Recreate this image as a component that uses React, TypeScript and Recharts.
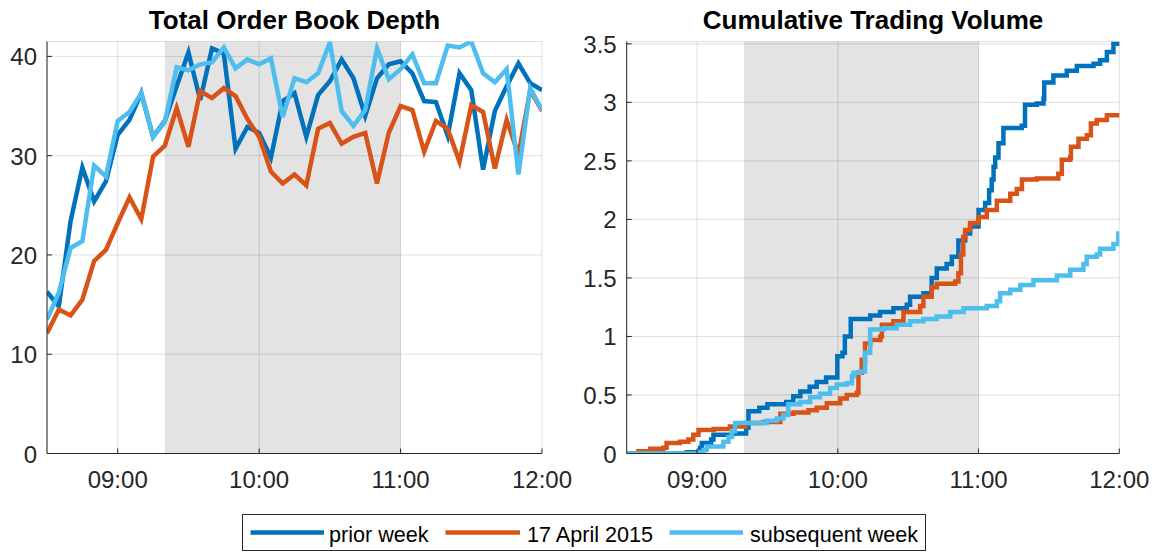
import React from 'react';
import { LineChart, Line, XAxis, YAxis, CartesianGrid, ReferenceArea } from 'recharts';

// ---------- data ----------
const seriesNames = ['prior week', '17 April 2015', 'subsequent week'];
const seriesColors = ['#0072BD', '#D95319', '#4DBEEE'];

// time in minutes since midnight
const timeTicks = [540, 600, 660, 720];
const depthTicks = [0, 10, 20, 30, 40];
const volumeTicks = [0, 0.5, 1, 1.5, 2, 2.5, 3, 3.5];
const eventStart = 560; // 09:20
const eventEnd = 660; // 11:00

const depthTimes = [510, 515, 520, 525, 530, 535, 540, 545, 550, 555, 560, 565, 570, 575, 580, 585, 590, 595, 600, 605, 610, 615, 620, 625, 630, 635, 640, 645, 650, 655, 660, 665, 670, 675, 680, 685, 690, 695, 700, 705, 710, 715, 720];
const depthPrior = [16.3, 14.8, 23.4, 28.8, 25.4, 27.4, 32.1, 33.6, 36.3, 31.9, 33.5, 37.0, 40.4, 35.6, 40.8, 40.3, 30.7, 32.9, 32.3, 29.8, 35.5, 36.3, 31.9, 36.1, 37.5, 39.7, 37.8, 34.0, 37.8, 39.2, 39.5, 38.3, 35.5, 35.4, 32.0, 38.3, 36.6, 28.6, 34.5, 37.0, 39.3, 37.3, 36.6];
const depthApril = [12.1, 14.5, 13.9, 15.5, 19.4, 20.5, 23.2, 25.8, 23.6, 29.9, 31.0, 34.8, 30.9, 36.5, 35.8, 36.8, 36.0, 33.7, 31.9, 28.4, 27.2, 28.1, 27.0, 32.7, 33.3, 31.2, 31.9, 32.3, 27.2, 32.3, 35.0, 34.6, 30.4, 33.5, 32.7, 29.4, 35.1, 34.4, 28.7, 33.6, 30.1, 36.6, 34.5];
const depthSubsequent = [13.5, 16.2, 20.7, 21.4, 29.0, 27.9, 33.5, 34.4, 36.3, 31.9, 33.4, 38.9, 38.6, 39.2, 39.4, 40.9, 38.8, 39.7, 39.2, 39.8, 33.9, 37.8, 37.4, 38.3, 41.4, 34.5, 33.0, 34.6, 40.8, 37.7, 38.7, 40.2, 37.3, 37.3, 41.1, 40.9, 41.5, 38.3, 37.4, 38.7, 28.1, 36.8, 34.6];

const volPriorTimes = [510, 535.6, 541.3, 542, 546, 547, 555, 560.9, 561.9, 566.5, 570, 578, 581, 584, 588, 591, 595, 599.8, 602, 603, 605.5, 613.8, 618, 623.7, 629.4, 630.8, 636.5, 640, 642.2, 646.4, 648.6, 651.4, 654.3, 656.4, 660, 662.8, 664.5, 665.6, 666.4, 667.1, 668.5, 670.6, 678.4, 679.8, 684.8, 687.7, 688, 691.9, 697.6, 701.9, 709, 711.8, 714.7, 717.5, 720];
const volPriorValues = [0, 0.01, 0.05, 0.09, 0.12, 0.16, 0.17, 0.22, 0.36, 0.39, 0.42, 0.44, 0.49, 0.53, 0.57, 0.61, 0.65, 0.83, 0.86, 1.0, 1.15, 1.18, 1.21, 1.24, 1.27, 1.34, 1.37, 1.5, 1.58, 1.62, 1.68, 1.82, 1.88, 1.94, 2.08, 2.14, 2.25, 2.34, 2.45, 2.53, 2.65, 2.78, 2.8, 2.98, 2.99, 3.03, 3.17, 3.23, 3.27, 3.31, 3.33, 3.36, 3.43, 3.5, 3.52];

const volAprilTimes = [510, 515, 520, 525.6, 527, 532.7, 536.3, 538.4, 540.6, 547, 554, 560.5, 568.3, 575.5, 581.1, 587.5, 591, 595.3, 601, 603.8, 608.1, 608.8, 610.2, 611.6, 613.8, 618.1, 618.8, 623.7, 628, 635.1, 636.5, 640, 642.2, 650, 651.4, 652.5, 653.5, 654.3, 656.4, 660, 663.5, 667.8, 673.5, 676.3, 678.5, 684.8, 694, 695.5, 699.1, 699.4, 702.6, 706.2, 707.9, 710.4, 714.7, 720];
const volAprilValues = [0, 0.02, 0.04, 0.05, 0.09, 0.1, 0.12, 0.16, 0.2, 0.21, 0.23, 0.26, 0.27, 0.34, 0.35, 0.37, 0.39, 0.43, 0.47, 0.5, 0.52, 0.69, 0.8, 0.94, 0.97, 1.0, 1.1, 1.13, 1.21, 1.26, 1.34, 1.42, 1.45, 1.47, 1.54, 1.7, 1.85, 1.91, 1.97, 2.02, 2.08, 2.16, 2.22, 2.26, 2.34, 2.35, 2.39, 2.51, 2.53, 2.62, 2.69, 2.72, 2.82, 2.85, 2.89, 2.91];

const volSubsequentTimes = [510, 541.3, 542.7, 544.1, 551.2, 553.4, 554.8, 556.2, 569.7, 574, 576.8, 578.9, 583.9, 588.2, 592.4, 596.7, 599.6, 603.8, 606, 606.7, 609.5, 611.6, 613.8, 619.4, 625.1, 630.8, 636.5, 642.2, 647.9, 653.6, 663.5, 667.8, 669.2, 673.5, 677.8, 683.4, 693.4, 699.1, 704.7, 706.1, 710.4, 711.8, 717.5, 719.6, 720];
const volSubsequentValues = [0, 0.01, 0.03, 0.06, 0.1, 0.14, 0.19, 0.26, 0.28, 0.3, 0.33, 0.42, 0.44, 0.48, 0.51, 0.56, 0.59, 0.6, 0.66, 0.69, 0.7, 0.86, 1.06, 1.07, 1.1, 1.13, 1.15, 1.17, 1.21, 1.24, 1.26, 1.3, 1.37, 1.4, 1.44, 1.48, 1.52, 1.57, 1.62, 1.68, 1.7, 1.75, 1.79, 1.88, 1.88];

// ---------- helpers ----------
const zip = (ts: number[], vs: number[]) => ts.map((t, i) => ({ t, v: vs[i] }));
const depthSeries = [zip(depthTimes, depthPrior), zip(depthTimes, depthApril), zip(depthTimes, depthSubsequent)];
const volumeSeries = [
  zip(volPriorTimes, volPriorValues),
  zip(volAprilTimes, volAprilValues),
  zip(volSubsequentTimes, volSubsequentValues),
];

const FONT = "'Liberation Sans', Arial, Helvetica, sans-serif";
const AXIS = '#262626';
const fmtTime = (m: number) =>
  `${String(Math.floor(m / 60)).padStart(2, '0')}:${String(Math.round(m % 60)).padStart(2, '0')}`;

const XTick = (props: any) => {
  const { x, y, payload } = props;
  return (
    <g>
      <line x1={x} y1={y} x2={x} y2={y - 5} stroke={AXIS} strokeWidth={1} />
      <text x={x} y={y + 34} textAnchor="middle" fontSize={24} fontFamily={FONT} fill={AXIS}>
        {fmtTime(payload.value)}
      </text>
    </g>
  );
};

const YTick = (props: any) => {
  const { x, y, payload } = props;
  return (
    <g>
      <line x1={x} y1={y} x2={x + 5} y2={y} stroke={AXIS} strokeWidth={1} />
      <text x={x - 10} y={y + 9} textAnchor="end" fontSize={24} fontFamily={FONT} fill={AXIS}>
        {String(payload.value)}
      </text>
    </g>
  );
};

const Panel = ({ left, width, rightMargin, yWidth, series, yDomain, yTicks, step }: any) => (
  <div style={{ position: 'absolute', left, top: 0 }}>
    <LineChart width={width} height={500} margin={{ top: 41.5, right: rightMargin, bottom: 0, left: 0 }}>
      <CartesianGrid stroke={AXIS} strokeOpacity={0.15} strokeWidth={1} />
      <ReferenceArea x1={eventStart} x2={eventEnd} fill="#000" fillOpacity={0.11} stroke="none" ifOverflow="hidden" />
      <XAxis
        dataKey="t"
        type="number"
        domain={[510, 720]}
        ticks={timeTicks}
        interval={0}
        height={46.5}
        tickSize={0}
        tickMargin={0}
        tickLine={false}
        axisLine={{ stroke: AXIS, strokeWidth: 1 }}
        tick={<XTick />}
        allowDataOverflow
      />
      <YAxis
        type="number"
        domain={yDomain}
        ticks={yTicks}
        interval={0}
        width={yWidth}
        tickSize={0}
        tickMargin={0}
        tickLine={false}
        axisLine={{ stroke: AXIS, strokeWidth: 1 }}
        tick={<YTick />}
        allowDataOverflow
      />
      {series.map((d: any, i: number) => (
        <Line
          key={seriesNames[i]}
          data={d}
          dataKey="v"
          type={step ? 'stepAfter' : 'linear'}
          stroke={seriesColors[i]}
          strokeWidth={4.5}
          dot={false}
          activeDot={false}
          isAnimationActive={false}
        />
      ))}
    </LineChart>
  </div>
);

const legendLayout = [
  { x1: 250.5, x2: 324, tx: 329 },
  { x1: 445.5, x2: 520, tx: 527 },
  { x1: 669.5, x2: 743, tx: 750 },
];

export default function App() {
  return (
    <div style={{ position: 'fixed', left: 0, top: 0, width: 1158, height: 552, background: '#fff', overflow: 'hidden' }}>
      <Panel left={0} width={580} rightMargin={38} yWidth={47} series={depthSeries} yDomain={[0, 41.5]} yTicks={depthTicks} step={false} />
      <Panel left={580} width={578} rightMargin={38.7} yWidth={46.7} series={volumeSeries} yDomain={[0, 3.52]} yTicks={volumeTicks} step={true} />
      <svg width={1158} height={552} style={{ position: 'absolute', left: 0, top: 0, pointerEvents: 'none' }}>
        <text x={294.5} y={28.5} textAnchor="middle" fontSize={26} fontWeight="bold" fontFamily={FONT} fill="#000">
          Total Order Book Depth
        </text>
        <text x={873} y={28.5} textAnchor="middle" fontSize={26} fontWeight="bold" fontFamily={FONT} fill="#000">
          Cumulative Trading Volume
        </text>
        <rect x={242.5} y={514.5} width={683} height={36} fill="#fff" stroke={AXIS} strokeWidth={1} />
        {seriesNames.map((name, i) => (
          <g key={name}>
            <line x1={legendLayout[i].x1} y1={532.5} x2={legendLayout[i].x2} y2={532.5} stroke={seriesColors[i]} strokeWidth={4.5} />
            <text x={legendLayout[i].tx} y={541.5} fontSize={21.6} fontFamily={FONT} fill="#000">
              {name}
            </text>
          </g>
        ))}
      </svg>
    </div>
  );
}
